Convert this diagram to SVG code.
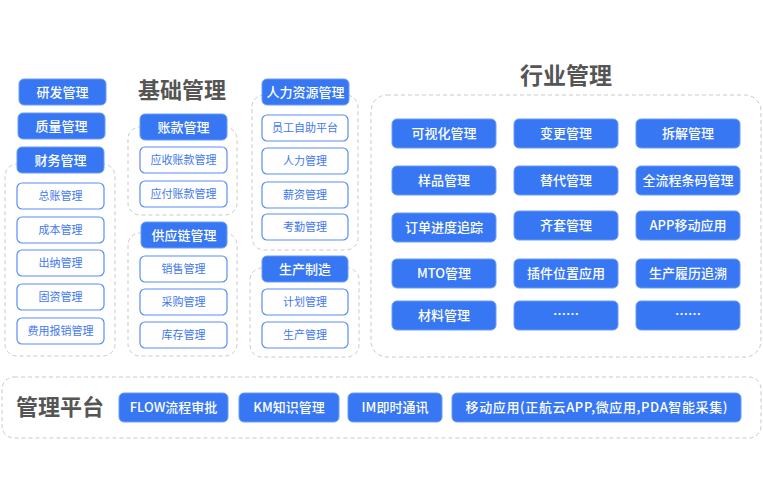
<svg xmlns="http://www.w3.org/2000/svg" width="763" height="500" viewBox="0 0 763 500">
<style>
text{font-family:"Noto Sans CJK SC","Noto Sans",sans-serif;text-anchor:middle}
.b{fill:#3777f3;stroke:#6c9cf6;stroke-width:1}
.bt{fill:#fff;font-size:13px;font-weight:500}
.s{fill:#fff;stroke:#5a8ef5;stroke-width:1.2}
.st{fill:#3f78ef;font-size:11px}
.c{fill:none;stroke:#c9c9c9;stroke-width:1;stroke-dasharray:4 3}
.t{fill:#555;font-size:22px;font-weight:700}
</style>
<rect width="763" height="500" fill="#fff"/>
<g id="containers">
<rect class="c" x="5" y="164" width="110" height="192" rx="12"/>
<rect class="c" x="128" y="127" width="109" height="88" rx="12"/>
<rect class="c" x="128" y="233" width="109" height="123" rx="12"/>
<rect class="c" x="252" y="95" width="106" height="155" rx="12"/>
<rect class="c" x="250" y="268" width="109" height="89" rx="12"/>
<rect class="c" x="371" y="95" width="390" height="262" rx="16"/>
<rect class="c" x="2" y="377" width="759" height="61" rx="12"/>
</g>
<g id="titles">
<text class="t" x="182" y="98">基础管理</text>
<text class="t" x="566" y="84" style="font-size:23px">行业管理</text>
<text class="t" x="60" y="415">管理平台</text>
</g>
<g id="left">
<g id="n-yanfa"><rect class="b" x="19" y="79" width="87" height="26" rx="5"/><text class="bt" x="62.5" y="96.5">研发管理</text></g>
<g id="n-zhiliang"><rect class="b" x="18" y="113" width="87" height="26" rx="5"/><text class="bt" x="61.5" y="130.5">质量管理</text></g>
<g id="n-caiwu"><rect class="b" x="17" y="147" width="87" height="26" rx="5"/><text class="bt" x="60.5" y="164.5">财务管理</text></g>
<g id="n-zongzhang"><rect class="s" x="17" y="183" width="87" height="26" rx="5"/><text class="st" x="60.5" y="200">总账管理</text></g>
<g id="n-chengben"><rect class="s" x="17" y="217" width="87" height="26" rx="5"/><text class="st" x="60.5" y="234">成本管理</text></g>
<g id="n-chuna"><rect class="s" x="17" y="250" width="87" height="26" rx="5"/><text class="st" x="60.5" y="267">出纳管理</text></g>
<g id="n-guzi"><rect class="s" x="17" y="284" width="87" height="26" rx="5"/><text class="st" x="60.5" y="301">固资管理</text></g>
<g id="n-feiyong"><rect class="s" x="17" y="318" width="87" height="26" rx="5"/><text class="st" x="60.5" y="335">费用报销管理</text></g>
</g>
<g id="basic">
<g id="n-zhangkuan"><rect class="b" x="140" y="114" width="87" height="26" rx="5"/><text class="bt" x="183.5" y="131.5">账款管理</text></g>
<g id="n-yingshou"><rect class="s" x="140" y="147" width="87" height="26" rx="5"/><text class="st" x="183.5" y="164">应收账款管理</text></g>
<g id="n-yingfu"><rect class="s" x="140" y="181" width="87" height="26" rx="5"/><text class="st" x="183.5" y="198">应付账款管理</text></g>
<g id="n-gongying"><rect class="b" x="141" y="222" width="86" height="26" rx="5"/><text class="bt" x="184" y="239.5">供应链管理</text></g>
<g id="n-xiaoshou"><rect class="s" x="140" y="256" width="87" height="26" rx="5"/><text class="st" x="183.5" y="273">销售管理</text></g>
<g id="n-caigou"><rect class="s" x="140" y="289" width="87" height="26" rx="5"/><text class="st" x="183.5" y="306">采购管理</text></g>
<g id="n-kucun"><rect class="s" x="140" y="322" width="87" height="26" rx="5"/><text class="st" x="183.5" y="339">库存管理</text></g>
</g>
<g id="hr">
<g id="n-renliziyuan"><rect class="b" x="262" y="79" width="87" height="26" rx="5"/><text class="bt" x="305.5" y="96.5">人力资源管理</text></g>
<g id="n-yuangong"><rect class="s" x="262" y="115" width="86" height="26" rx="5"/><text class="st" x="305" y="132">员工自助平台</text></g>
<g id="n-renli"><rect class="s" x="262" y="148" width="86" height="26" rx="5"/><text class="st" x="305" y="165">人力管理</text></g>
<g id="n-xinzi"><rect class="s" x="262" y="182" width="86" height="26" rx="5"/><text class="st" x="305" y="199">薪资管理</text></g>
<g id="n-kaoqin"><rect class="s" x="262" y="214" width="86" height="26" rx="5"/><text class="st" x="305" y="231">考勤管理</text></g>
<g id="n-shengchanzhizao"><rect class="b" x="262" y="256" width="86" height="26" rx="5"/><text class="bt" x="305" y="273.5">生产制造</text></g>
<g id="n-jihua"><rect class="s" x="262" y="289" width="86" height="26" rx="5"/><text class="st" x="305" y="306">计划管理</text></g>
<g id="n-shengchan"><rect class="s" x="262" y="322" width="86" height="26" rx="5"/><text class="st" x="305" y="339">生产管理</text></g>
</g>
<g id="industry">
<g id="n-keshihua"><rect class="b" x="392" y="119" width="104" height="29" rx="5"/><text class="bt" x="444" y="138">可视化管理</text></g>
<g id="n-biangeng"><rect class="b" x="514" y="119" width="104" height="29" rx="5"/><text class="bt" x="566" y="138">变更管理</text></g>
<g id="n-chaijie"><rect class="b" x="636" y="119" width="104" height="29" rx="5"/><text class="bt" x="688" y="138">拆解管理</text></g>
<g id="n-yangpin"><rect class="b" x="392" y="166" width="104" height="29" rx="5"/><text class="bt" x="444" y="185">样品管理</text></g>
<g id="n-tidai"><rect class="b" x="514" y="166" width="104" height="29" rx="5"/><text class="bt" x="566" y="185">替代管理</text></g>
<g id="n-tiaoma"><rect class="b" x="636" y="166" width="104" height="29" rx="5"/><text class="bt" x="688" y="185">全流程条码管理</text></g>
<g id="n-dingdan"><rect class="b" x="392" y="213" width="104" height="29" rx="5"/><text class="bt" x="444" y="232">订单进度追踪</text></g>
<g id="n-qitao"><rect class="b" x="514" y="211" width="104" height="29" rx="5"/><text class="bt" x="566" y="230">齐套管理</text></g>
<g id="n-app"><rect class="b" x="636" y="211" width="104" height="29" rx="5"/><text class="bt" x="688" y="230">APP移动应用</text></g>
<g id="n-mto"><rect class="b" x="392" y="259" width="104" height="29" rx="5"/><text class="bt" x="444" y="278">MTO管理</text></g>
<g id="n-chajian"><rect class="b" x="514" y="259" width="104" height="29" rx="5"/><text class="bt" x="566" y="278">插件位置应用</text></g>
<g id="n-lvli"><rect class="b" x="636" y="259" width="104" height="29" rx="5"/><text class="bt" x="688" y="278">生产履历追溯</text></g>
<g id="n-cailiao"><rect class="b" x="392" y="301" width="104" height="29" rx="5"/><text class="bt" x="444" y="320">材料管理</text></g>
<g id="n-more1"><rect class="b" x="514" y="301" width="104" height="29" rx="5"/><text class="bt" x="566" y="319" style="font-weight:700">……</text></g>
<g id="n-more2"><rect class="b" x="636" y="301" width="104" height="29" rx="5"/><text class="bt" x="688" y="319" style="font-weight:700">……</text></g>
</g>
<g id="platform">
<g id="n-flow"><rect class="b" x="119" y="393" width="109" height="29" rx="5"/><text class="bt" x="173.5" y="412">FLOW流程审批</text></g>
<g id="n-km"><rect class="b" x="239" y="393" width="100" height="29" rx="5"/><text class="bt" x="289" y="412">KM知识管理</text></g>
<g id="n-im"><rect class="b" x="348" y="393" width="94" height="29" rx="5"/><text class="bt" x="395" y="412">IM即时通讯</text></g>
<g id="n-mobile"><rect class="b" x="452" y="393" width="289" height="29" rx="5"/><text class="bt" x="596.5" y="412" textLength="262" lengthAdjust="spacing">移动应用(正航云APP,微应用,PDA智能采集)</text></g>
</g>
<g id="connectors"></g>
</svg>
